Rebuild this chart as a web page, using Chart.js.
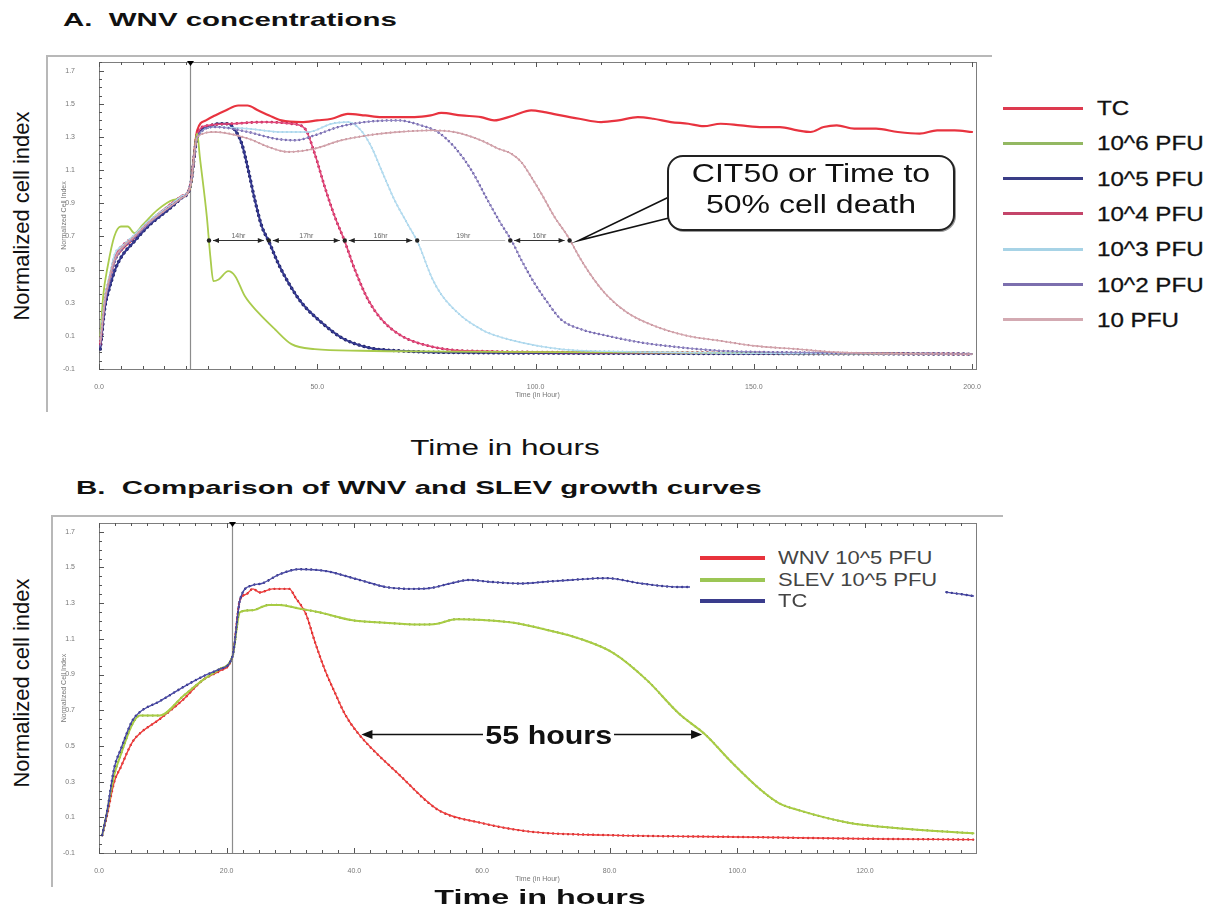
<!DOCTYPE html>
<html><head><meta charset="utf-8"><title>WNV growth curves</title>
<script src="https://cdn.jsdelivr.net/npm/chart.js@4.4.1/dist/chart.umd.min.js"></script>
<style>
html,body{margin:0;padding:0;background:#fff;}
#page{position:relative;width:1218px;height:911px;overflow:hidden;font-family:"Liberation Sans",Arial,Helvetica,sans-serif;color:#111;}
.abs{position:absolute;}
.title{position:absolute;font-weight:bold;font-size:19px;line-height:22px;white-space:nowrap;transform-origin:left center;transform:scaleX(1.55);}
.ylab{position:absolute;font-size:22px;white-space:nowrap;transform:translate(-50%,-50%) rotate(-90deg);}
.cx{position:absolute;white-space:nowrap;}
.legA{position:absolute;left:1003px;height:0;}
.legA .ln{position:absolute;left:0;top:-1.5px;width:80px;height:3px;}
.legA .tx{position:absolute;left:94px;top:-13px;font-size:21px;line-height:26px;white-space:nowrap;transform-origin:left center;transform:scaleX(1.15);-webkit-text-stroke:0.3px #111;}
.legB{position:absolute;left:700px;height:0;}
.legB .ln{position:absolute;left:0;top:-2px;width:65px;height:4px;}
.legB .tx{position:absolute;left:78px;top:-11px;font-size:18px;line-height:22px;color:#444;white-space:nowrap;transform-origin:left center;transform:scaleX(1.22);}
.cl{position:absolute;left:50%;font-size:25px;line-height:30px;white-space:nowrap;transform:translate(-50%,-50%) scaleX(1.28);}
</style></head>
<body><div id="page">

<div class="title" style="left:63px;top:9px">A.&nbsp; WNV concentrations</div>
<div class="abs" style="left:46px;top:55px;width:944px;height:355px;border-top:2px solid #b8b8b8;border-left:2px solid #b8b8b8;"></div>
<canvas id="cA" class="abs" style="left:48px;top:57px" width="940" height="352"></canvas>
<div class="ylab" style="left:22px;top:216px">Normalized cell index</div>
<div class="cx" style="left:505px;top:448px;font-size:22px;transform:translate(-50%,-50%) scaleX(1.43)">Time in hours</div>
<div id="legendA"></div>
<div class="abs" style="left:667px;top:155px;width:288px;height:76px;border:2px solid #222;border-radius:16px;background:#fff;box-sizing:border-box;box-shadow:1px 1px 0 #999;">
  <div class="cl" style="top:16px">CIT50 or Time to</div>
  <div class="cl" style="top:47px">50% cell death</div>
</div>

<div class="title" style="left:76px;top:477px">B.&nbsp; Comparison of WNV and SLEV growth curves</div>
<div class="abs" style="left:51px;top:515px;width:950px;height:370px;border-top:2px solid #b8b8b8;border-left:2px solid #b8b8b8;"></div>
<canvas id="cB" class="abs" style="left:54px;top:519px" width="934" height="372"></canvas>
<div class="ylab" style="left:22px;top:683px">Normalized cell index</div>
<div class="cx" style="left:540px;top:897px;font-size:21px;font-weight:bold;transform:translate(-50%,-50%) scaleX(1.54)">Time in hours</div>
<div class="abs" style="left:690px;top:545px;width:255px;height:66px;background:#fff;"></div>
<div id="legendB"></div>
<div class="cx" id="gapLabel" style="left:483px;top:721px;font-size:26px;line-height:28px;font-weight:bold;background:#fff;padding:0 2px;transform-origin:left center;transform:scaleX(1.17)">55 hours</div>

</div>
<script>
// ---------------- DATA: panel A (time in hours, normalized cell index) ----------------
const namesA = ['TC','10^6 PFU','10^5 PFU','10^4 PFU','10^3 PFU','10^2 PFU','10 PFU'];
const tcA = [[0.3,0.06],[1.4,0.31],[2.2,0.41],[3.7,0.56],[5.2,0.62],[8.1,0.69],[11.2,0.78],[15.8,0.88],[18.8,0.94],[20.9,1.0],
 [22.5,1.34],[24.5,1.40],[26.6,1.43],[29,1.46],[31.9,1.49],[34,1.49],[36.5,1.46],[39,1.43],[41.8,1.40],[46.4,1.39],[50,1.40],
 [53.3,1.41],[57,1.44],[61,1.43],[64.7,1.42],[68.5,1.42],[72.3,1.42],[76,1.43],[78.4,1.445],[83,1.43],[87.5,1.42],[90.5,1.40],
 [95,1.43],[99,1.46],[102,1.45],[105.8,1.43],[110,1.41],[115,1.39],[119,1.40],[123.4,1.42],[127,1.41],[131,1.39],[135,1.38],
 [138.5,1.365],[142.4,1.38],[147,1.37],[152,1.36],[156,1.36],[160,1.34],[163,1.33],[166,1.36],[169,1.37],[173,1.35],[178,1.35],
 [183,1.33],[188,1.32],[192,1.34],[196,1.34],[200,1.33]];
const pfu6A = [[0.3,0.10],[1.0,0.35],[2.0,0.52],[3.5,0.70],[5.0,0.76],[6.6,0.76],[8.1,0.72],[10,0.77],[13.4,0.86],[17,0.92],[20.9,0.99],
 [22.5,1.32],[23.1,1.18],[24.7,0.82],[25.5,0.58],[26.2,0.43],[27.4,0.44],[29.6,0.49],[31.2,0.46],[33.4,0.34],[36.5,0.24],[40.3,0.14],
 [44.1,0.05],[49.4,0.02],[60,0.01],[80,0.005],[120,0.0],[160,-0.005],[200,-0.01]];
const pfu5A = [[0.3,0.02],[1.4,0.28],[2.2,0.37],[3.7,0.50],[5.2,0.58],[8.1,0.67],[11.2,0.76],[15.8,0.86],[18.8,0.93],[20.9,1.0],
 [22.5,1.30],[25,1.36],[27.4,1.38],[29.7,1.38],[31.2,1.34],[32.7,1.26],[34.2,1.10],[35.7,0.92],[37.3,0.76],[38.9,0.67],[41,0.54],
 [43.4,0.42],[46.4,0.30],[51,0.18],[55.5,0.09],[61.6,0.03],[68.5,0.01],[80,0.0],[120,-0.005],[200,-0.01]];
const pfu4A = [[0.3,0.05],[1.4,0.33],[2.2,0.42],[3.7,0.58],[5.2,0.64],[8.1,0.70],[11.2,0.78],[15.8,0.88],[18.8,0.94],[20.9,1.0],
 [22.5,1.32],[25,1.37],[30.4,1.38],[38,1.39],[44.1,1.38],[47.2,1.35],[49.4,1.20],[51.7,1.00],[54,0.82],[56.3,0.67],[58.6,0.50],
 [61.6,0.32],[64.7,0.20],[69.3,0.10],[75.4,0.04],[83.7,0.01],[120,0.0],[200,-0.01]];
const pfu3A = [[0.3,0.08],[1.4,0.34],[2.2,0.44],[3.7,0.60],[5.2,0.64],[8.1,0.71],[11.2,0.79],[15.8,0.88],[18.8,0.94],[20.9,1.0],
 [22.5,1.30],[26.6,1.36],[34.2,1.35],[41.8,1.33],[47.9,1.33],[53.3,1.38],[57,1.39],[60,1.34],[62.4,1.24],[64.7,1.10],[67.7,0.92],
 [70.8,0.77],[73.1,0.66],[76.1,0.46],[78.4,0.35],[83,0.22],[87.5,0.14],[89,0.12],[96.7,0.06],[105.8,0.02],[120,0.005],[200,-0.01]];
const pfu2A = [[0.3,0.04],[1.4,0.30],[2.2,0.40],[3.7,0.55],[5.2,0.62],[8.1,0.69],[11.2,0.77],[15.8,0.87],[18.8,0.93],[20.9,1.0],
 [22.5,1.30],[26.6,1.36],[34.2,1.33],[40.3,1.29],[44.9,1.28],[49.4,1.31],[54.8,1.36],[60.9,1.39],[68.5,1.40],[73.8,1.37],[77.6,1.33],
 [81.4,1.24],[85.3,1.10],[89,0.92],[92,0.78],[94.4,0.68],[96.7,0.56],[99.7,0.42],[102.8,0.30],[105.8,0.20],[110.4,0.14],[116.5,0.10],
 [124.1,0.06],[133.3,0.03],[142.4,0.01],[160,0.0],[200,-0.01]];
const pfu1A = [[0.3,0.06],[1.4,0.32],[2.2,0.43],[3.7,0.57],[5.2,0.63],[8.1,0.70],[11.2,0.78],[15.8,0.87],[18.8,0.93],[20.9,1.0],
 [22.5,1.30],[26.6,1.33],[34.2,1.29],[38.8,1.24],[43.4,1.21],[49.4,1.23],[55.5,1.28],[61.6,1.31],[68.5,1.33],[76.1,1.34],[81.4,1.33],
 [87.5,1.28],[91.4,1.23],[94.4,1.20],[96.7,1.15],[99,1.06],[101.3,0.96],[104.3,0.82],[107.4,0.70],[110.4,0.56],[113.4,0.44],
 [116.5,0.34],[121,0.24],[127.2,0.16],[134.8,0.10],[142.4,0.07],[150,0.04],[160,0.02],[170,0.0],[200,-0.01]];
const cit50Times = [25.2,38.9,56.3,72.9,94.2,107.8];
const cit50Level = 0.68;
const cit50Gaps = ['14hr','17hr','16hr','19hr','16hr'];
const infectTimeA = 20.9;
const xTicksA = [0,50,100,150,200];

// ---------------- DATA: panel B ----------------
const namesB = ['WNV 10^5 PFU','SLEV 10^5 PFU','TC'];
const wnvB = [[0.5,0.0],[1.2,0.10],[2.4,0.30],[3.4,0.38],[5.2,0.52],[6.4,0.57],[9.5,0.65],[13.2,0.76],[16.3,0.87],[18.9,0.92],[20.9,1.0],
 [22.1,1.32],[23.1,1.35],[24.1,1.38],[25.2,1.36],[27.2,1.38],[29.8,1.38],[30.8,1.33],[32.4,1.24],[33.9,1.075],[35.4,0.925],[37,0.795],
 [38.5,0.68],[40.6,0.57],[47,0.34],[53.2,0.14],[59.7,0.07],[67.5,0.02],[80,0.0],[100,-0.01],[120,-0.02],[137,-0.025]];
const slevB = [[0.5,0.0],[1.2,0.12],[2.4,0.34],[3.4,0.45],[5.2,0.62],[6.4,0.67],[9.5,0.67],[13.2,0.78],[16.3,0.87],[18.9,0.93],[20.9,1.0],
 [22.1,1.25],[24,1.26],[26.6,1.29],[28.3,1.29],[31.3,1.27],[34.3,1.25],[39.5,1.205],[44.8,1.19],[50,1.18],[53,1.185],[56,1.21],
 [60.3,1.205],[65,1.19],[70.2,1.15],[75.4,1.10],[80.6,1.02],[85.8,0.87],[90.9,0.68],[95.1,0.56],[98.8,0.42],[103.8,0.25],[106.5,0.18],
 [109.6,0.14],[117.4,0.07],[124.8,0.04],[137,0.01]];
const tcB = [[0.5,0.0],[1.2,0.12],[2.4,0.38],[3.4,0.48],[5.2,0.64],[6.4,0.69],[9.5,0.75],[13.2,0.83],[16.3,0.89],[18.9,0.93],[20.9,1.0],
 [22.1,1.32],[24,1.40],[25.5,1.41],[28.2,1.46],[31.3,1.49],[35.5,1.48],[40.8,1.43],[45,1.39],[49.2,1.38],[52,1.385],[55,1.41],
 [58,1.43],[61,1.42],[66,1.41],[70,1.42],[74,1.43],[79.5,1.44],[85,1.41],[91,1.39],[95,1.39],[100,1.40],[105,1.39],[110,1.38],[115,1.38],
 [120,1.37],[125,1.37],[130,1.37],[133,1.36],[137,1.34]];
const gapTimesB = [40.8,94.8];
const gapLevelB = 0.565;
const infectTimeB = 20.9;
const xTicksB = [0,20,40,60,80,100,120];
const yTickValues = [1.7,1.5,1.3,1.1,0.9,0.7,0.5,0.3,0.1,-0.1];

// ---------------- styles ----------------
const legColorsA = ['#dd3a4f','#93b862','#3a3d86','#c4456a','#a7d3e6','#7c6fae','#d3aab2'];
const legColorsB = ['#e8323c','#9cc655','#3a3c8c'];

Chart.defaults.font.family = '"Liberation Sans", Arial, sans-serif';

const toXY = arr => arr.map(p => ({x:p[0], y:p[1]}));
function lineDs(arr, color, width, dash){
  return {data:toXY(arr), borderColor:color, borderWidth:width, borderDash:dash||[], pointRadius:0, fill:false,
    cubicInterpolationMode:'monotone', borderCapStyle:'round', borderJoinStyle:'round'};
}
function dotDs(arr, color, width, gap){ return lineDs(arr, color, width, [0.001, gap||5]); }

function arrowHead(ctx, x, y, dir, size){
  ctx.beginPath(); ctx.moveTo(x,y); ctx.lineTo(x - dir*size, y - size*0.42); ctx.lineTo(x - dir*size, y + size*0.42); ctx.closePath(); ctx.fill();
}

const framePlugin = {
  id:'frame',
  beforeDatasetsDraw(chart, args, o){
    const {ctx, chartArea:a, scales:{x,y}} = chart;
    ctx.save();
    ctx.strokeStyle='#7d7d7d'; ctx.lineWidth=1;
    ctx.strokeRect(Math.round(a.left)+0.5, Math.round(a.top)+0.5, Math.round(a.right-a.left), Math.round(a.bottom-a.top));
    ctx.strokeStyle='#555';
    ctx.beginPath();
    const nX = Math.floor(x.max / o.stepX + 1e-6);
    for(let i=0;i<=nX;i++){
      const t=i*o.stepX; const px=Math.round(x.getPixelForValue(t))+0.5;
      const L = o.majorX.includes(t) ? 5 : 3;
      ctx.moveTo(px,a.bottom); ctx.lineTo(px,a.bottom-L); ctx.moveTo(px,a.top); ctx.lineTo(px,a.top+L);
    }
    for(let i=0;i<=40;i++){
      const v=-0.1+i*0.05; if(v>y.max) break;
      const py=Math.round(y.getPixelForValue(v))+0.5; const L=(i%4===0)?5:3;
      ctx.moveTo(a.left,py); ctx.lineTo(a.left+L,py);
    }
    ctx.stroke();
    const lx=Math.round(x.getPixelForValue(o.lineTime))+0.5;
    ctx.strokeStyle='#8c8c8c'; ctx.lineWidth=1.2;
    ctx.beginPath(); ctx.moveTo(lx,a.top); ctx.lineTo(lx,a.bottom); ctx.stroke();
    ctx.fillStyle='#000';
    ctx.beginPath(); ctx.moveTo(lx-3.5,a.top-1); ctx.lineTo(lx+3.5,a.top-1); ctx.lineTo(lx,a.top+4); ctx.closePath(); ctx.fill();
    ctx.restore();
  }
};

const cit50Plugin = {
  id:'cit50',
  afterDatasetsDraw(chart){
    const {ctx, scales:{x,y}} = chart;
    const yy = Math.round(y.getPixelForValue(cit50Level))+0.5;
    ctx.save();
    ctx.lineWidth=1;
    for(let i=0;i<cit50Times.length-1;i++){
      const x1 = x.getPixelForValue(cit50Times[i])+4, x2 = x.getPixelForValue(cit50Times[i+1])-5;
      ctx.strokeStyle = (i===3) ? '#bbb' : '#333';
      ctx.fillStyle='#222';
      ctx.beginPath(); ctx.moveTo(x1,yy); ctx.lineTo(x2,yy); ctx.stroke();
      if(i!==3){ arrowHead(ctx,x1,yy,-1,6); arrowHead(ctx,x2,yy,1,6); }
      ctx.font='7px "Liberation Sans", Arial'; ctx.fillStyle='#666'; ctx.textAlign='center'; ctx.textBaseline='bottom';
      ctx.fillText(cit50Gaps[i], (x1+x2)/2, yy-1);
    }
    ctx.fillStyle='#222';
    for(const t of cit50Times){
      ctx.beginPath(); ctx.arc(x.getPixelForValue(t), yy, 2.2, 0, Math.PI*2); ctx.fill();
    }
    // callout tail towards the last CIT50 point
    const tipX = x.getPixelForValue(cit50Times[cit50Times.length-1]) + 9;
    const boxX = 667 - 48 + 2;
    ctx.strokeStyle='#111'; ctx.lineWidth=1.6; ctx.fillStyle='#fff';
    ctx.beginPath(); ctx.moveTo(boxX, 197-57); ctx.lineTo(tipX, yy); ctx.lineTo(boxX, 218-57); ctx.closePath(); ctx.fill();
    ctx.beginPath(); ctx.moveTo(boxX, 197-57); ctx.lineTo(tipX, yy); ctx.lineTo(boxX, 218-57); ctx.stroke();
    ctx.restore();
  }
};

const gapPlugin = {
  id:'gapB',
  afterDatasetsDraw(chart){
    const {ctx, scales:{x,y}} = chart;
    const yy = Math.round(y.getPixelForValue(gapLevelB))+0.5;
    const x1 = x.getPixelForValue(gapTimesB[0])+2, x2 = x.getPixelForValue(gapTimesB[1])-2;
    ctx.save();
    ctx.strokeStyle='#111'; ctx.fillStyle='#111'; ctx.lineWidth=1.6;
    ctx.beginPath(); ctx.moveTo(x1+6,yy); ctx.lineTo(x2-6,yy); ctx.stroke();
    arrowHead(ctx,x1,yy,-1,11); arrowHead(ctx,x2,yy,1,11);
    ctx.restore();
  }
};

function makeChart(id, datasets, xMax, yMax, xTicks, pad, frameOpts, extra){
  return new Chart(document.getElementById(id), {
    type:'line',
    data:{datasets},
    options:{
      responsive:false, animation:false, events:[],
      layout:{padding:pad, autoPadding:false},
      plugins:{legend:{display:false}, tooltip:{enabled:false}, frame:frameOpts},
      scales:{
        x:{type:'linear', min:0, max:xMax, grid:{display:false}, border:{display:false},
           afterBuildTicks:s=>{ s.ticks = xTicks.map(v=>({value:v})); },
           ticks:{callback:v=>Number(v).toFixed(1), font:{size:7}, color:'#777', padding:6, maxRotation:0, autoSkip:false},
           title:{display:true, text:'Time (in Hour)', font:{size:7}, color:'#777', padding:{top:3,bottom:0}},
           afterFit:s=>{ s.height = 30; s.paddingLeft = 0; s.paddingRight = 0; }},
        y:{type:'linear', min:-0.1, max:yMax, grid:{display:false}, border:{display:false},
           afterBuildTicks:s=>{ s.ticks = yTickValues.map(v=>({value:v})); },
           ticks:{callback:v=>Number(v).toFixed(1), font:{size:7}, color:'#777', padding:16, autoSkip:false},
           title:{display:true, text:'Normalized Cell Index', font:{size:7}, color:'#777', padding:0},
           afterFit:s=>{ s.width = 39; s.paddingTop = 0; s.paddingBottom = 0; }}
      }
    },
    plugins:[framePlugin].concat(extra)
  });
}

const datasetsA = [
  lineDs(pfu1A,'#d2a3ab',1.4), dotDs(pfu1A,'#b97a87',2.1,4.5),
  lineDs(pfu2A,'#958ac6',1.0), dotDs(pfu2A,'#5d509c',2.4,4.5),
  lineDs(pfu3A,'#b3dbef',1.4), dotDs(pfu3A,'#8fc4df',2.0,4.5),
  lineDs(pfu6A,'#a9cb4c',1.8),
  lineDs(pfu4A,'#e2477a',1.6), dotDs(pfu4A,'#b41c4c',2.8,5),
  lineDs(pfu5A,'#34388f',2.0), dotDs(pfu5A,'#1a1c5a',3.4,5),
  lineDs(tcA,'#e8333f',2.2)
];
makeChart('cA', datasetsA, 200.9, 1.7525, xTicksA, {top:5,right:12,left:12,bottom:10},
  {stepX:5, majorX:xTicksA, lineTime:infectTimeA}, [cit50Plugin]);

const datasetsB = [
  lineDs(tcB,'#4a4aa6',1.4), dotDs(tcB,'#23236e',2.4,5),
  lineDs(slevB,'#a8cc44',2.0), dotDs(slevB,'#6b8c2c',2.2,5),
  lineDs(wnvB,'#f03c3c',1.4), dotDs(wnvB,'#b52020',2.4,5)
];
makeChart('cB', datasetsB, 137.4, 1.749, xTicksB, {top:4,right:12,left:6,bottom:8},
  {stepX:2.5, majorX:xTicksB, lineTime:infectTimeB}, [gapPlugin]);

// ---------------- legends ----------------
const legA = document.getElementById('legendA');
namesA.forEach((n,i)=>{
  const d=document.createElement('div'); d.className='legA'; d.style.top=(108+35.3*i)+'px';
  d.innerHTML='<span class="ln" style="background:'+legColorsA[i]+'"></span><span class="tx">'+n+'</span>';
  legA.appendChild(d);
});
const legB = document.getElementById('legendB');
namesB.forEach((n,i)=>{
  const d=document.createElement('div'); d.className='legB'; d.style.top=(558+21.5*i)+'px';
  d.innerHTML='<span class="ln" style="background:'+legColorsB[i]+'"></span><span class="tx">'+n+'</span>';
  legB.appendChild(d);
});
</script>
</body></html>
